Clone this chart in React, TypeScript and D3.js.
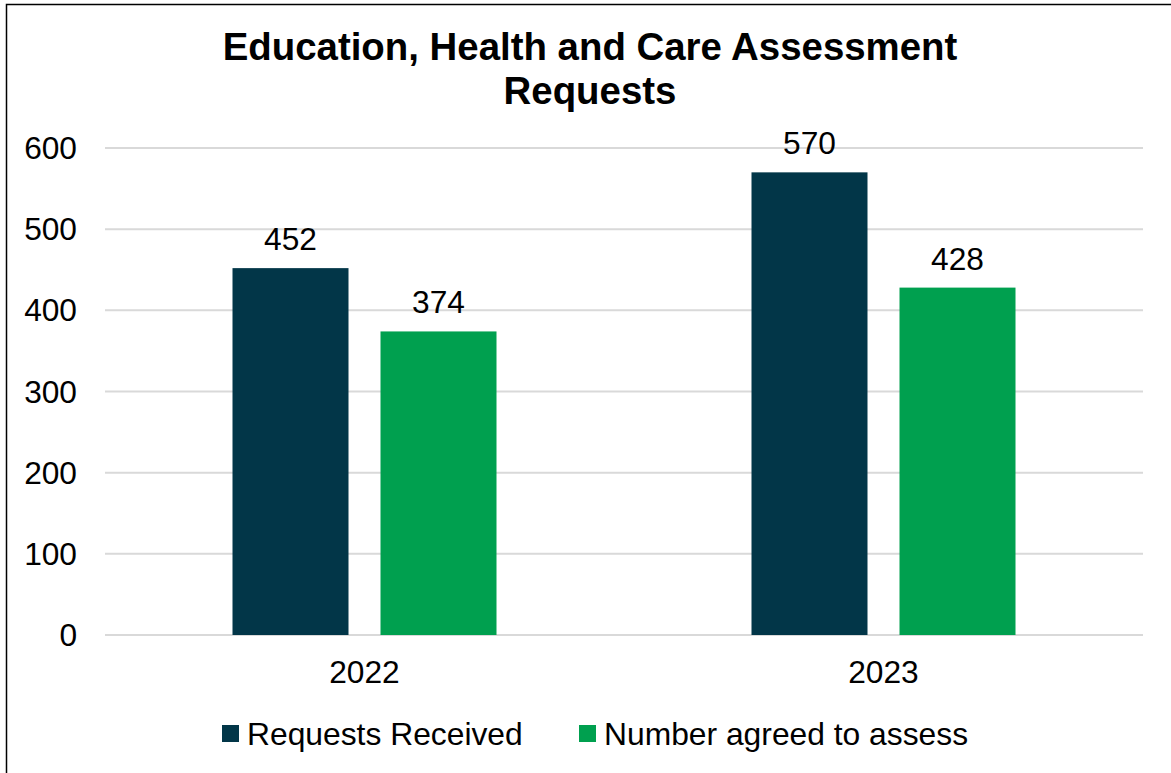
import React from "react";
import * as d3 from "d3";

const categories = ["2022", "2023"];
const seriesNames = ["Requests Received", "Number agreed to assess"];
const seriesColors = ["#023648", "#00A04F"];
const requestsReceived = [452, 570];
const agreedToAssess = [374, 428];
const yTicks = [0, 100, 200, 300, 400, 500, 600];

const W = 1171;
const H = 773;
const FONT = "'Liberation Sans', Arial, sans-serif";

export default function App() {
  const series = [requestsReceived, agreedToAssess];
  const x = d3.scaleBand<string>().domain(categories).range([105, 1143]).padding(0);
  const groupW = 264;
  const inner = d3
    .scaleBand<number>()
    .domain([0, 1])
    .range([(x.bandwidth() - groupW) / 2, (x.bandwidth() + groupW) / 2])
    .paddingInner(32 / 148)
    .paddingOuter(0);
  const y = d3.scaleLinear().domain([0, 600]).range([635, 148]);

  return (
    <svg
      width={W}
      height={H}
      style={{ position: "absolute", left: 0, top: 0, background: "#fff" }}
      fontFamily={FONT}
    >
      <rect x={6.5} y={4.5} width={W + 10} height={H + 10} fill="#fff" stroke="#000" strokeWidth={1.5} />
      <text x={590} y={60} textAnchor="middle" fontSize={38.4} fontWeight="bold" fill="#000">
        Education, Health and Care Assessment
      </text>
      <text x={590} y={104} textAnchor="middle" fontSize={38.4} fontWeight="bold" fill="#000">
        Requests
      </text>
      {yTicks.map((t) => (
        <g key={t}>
          <line x1={105} x2={1143} y1={y(t)} y2={y(t)} stroke="#d9d9d9" strokeWidth={2} />
          <text x={77} y={y(t) + 11} textAnchor="end" fontSize={31.7} fill="#000">
            {t}
          </text>
        </g>
      ))}
      {categories.map((c, ci) => (
        <g key={c}>
          {series.map((s, si) => {
            const bx = (x(c) as number) + (inner(si) as number);
            return (
              <g key={si}>
                <rect
                  x={bx}
                  y={y(s[ci])}
                  width={inner.bandwidth()}
                  height={y(0) - y(s[ci])}
                  fill={seriesColors[si]}
                />
                <text
                  x={bx + inner.bandwidth() / 2}
                  y={y(s[ci]) - 18}
                  textAnchor="middle"
                  fontSize={31.7}
                  fill="#000"
                >
                  {s[ci]}
                </text>
              </g>
            );
          })}
          <text
            x={(x(c) as number) + x.bandwidth() / 2}
            y={683}
            textAnchor="middle"
            fontSize={31.7}
            fill="#000"
          >
            {c}
          </text>
        </g>
      ))}
      {seriesNames.map((n, i) => {
        const lx = [222, 579][i];
        return (
          <g key={n}>
            <rect x={lx} y={725} width={17} height={17} fill={seriesColors[i]} />
            <text x={lx + 25} y={745} fontSize={31.8} fill="#000">
              {n}
            </text>
          </g>
        );
      })}
    </svg>
  );
}
